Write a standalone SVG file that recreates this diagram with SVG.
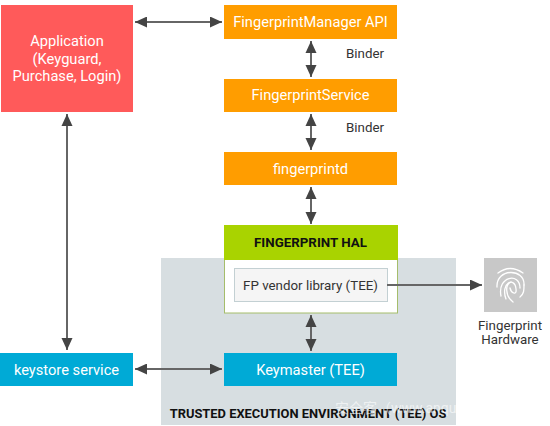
<svg xmlns="http://www.w3.org/2000/svg" width="550" height="426" viewBox="0 0 550 426">
<style>
text{font-family:Roboto,"Liberation Sans","Noto Sans CJK SC",sans-serif;text-anchor:middle}
.w{fill:#fff;font-size:14.670px}
.d{fill:#333;font-size:13.330px}
.b{fill:#111;font-size:13.330px;font-weight:700}
.c{stroke:#666;stroke-width:2;fill:none;marker-start:url(#s);marker-end:url(#e)}
.f{stroke:#fff;stroke-width:1.300;fill:none;stroke-linecap:round}
</style>
<defs>
<marker id="e" markerUnits="userSpaceOnUse" markerWidth="13" markerHeight="12" refX="12" refY="5.500" orient="auto"><path d="M0 0L12 5.500L0 11z" fill="#444"/></marker>
<marker id="s" markerUnits="userSpaceOnUse" markerWidth="13" markerHeight="12" refX="0" refY="5.500" orient="auto"><path d="M12 0L0 5.500L12 11z" fill="#444"/></marker>
</defs>
<rect width="550" height="426" fill="#fff"/>
<g id="tee-os"><rect x="161" y="258" width="295" height="167" fill="#d7dee1"/>
<text x="308" y="418" class="b" style="font-size:12.900px">TRUSTED EXECUTION ENVIRONMENT (TEE) OS</text>
<text x="335" y="413" font-size="14" fill="#fff" fill-opacity=".6" style="text-anchor:start">安全客（www.anqu</text></g>
<g id="application"><rect x="1" y="5" width="132" height="107" fill="#ff5a5a"/>
<text x="67" y="46" class="w">Application</text><text x="67" y="64" class="w">(Keyguard,</text><text x="67" y="81" class="w">Purchase, Login)</text></g>
<g id="fingerprint-manager"><rect x="224" y="5" width="173" height="34" fill="#ff9d00"/><text x="310.500" y="27" class="w">FingerprintManager API</text></g>
<g id="fingerprint-service"><rect x="224" y="79" width="173" height="33" fill="#ff9d00"/><text x="310.500" y="100" class="w">FingerprintService</text></g>
<g id="fingerprintd"><rect x="224" y="152" width="173" height="33" fill="#ff9d00"/><text x="310.500" y="174" class="w">fingerprintd</text></g>
<g id="fingerprint-hal"><rect x="224.500" y="230" width="173" height="83" fill="#fff" stroke="#a5bd6b"/><rect x="224" y="225" width="174" height="35" fill="#a9d300"/>
<text x="310.500" y="247" class="b">FINGERPRINT HAL</text></g>
<g id="fp-vendor"><rect x="234.500" y="268.500" width="153" height="33" fill="#f5f5f5" stroke="#c3d0d3"/><text x="310.500" y="290" fill="#333" font-size="13.330">FP vendor library (TEE)</text></g>
<g id="keymaster"><rect x="224" y="353" width="173" height="33" fill="#00aad6"/><text x="310.500" y="375" class="w">Keymaster (TEE)</text></g>
<g id="keystore"><rect x="0" y="353" width="133" height="33" fill="#00aad6"/><text x="66.500" y="375" class="w">keystore service</text></g>
<g id="fingerprint-hardware"><rect x="484" y="258" width="53" height="54" fill="#c8c8c8"/>
<g class="f"><path d="M498 273Q510 264 523 273"/><path d="M497 287C496 268 525 268 524 285"/><path d="M501 296C497 276 520 272 520 288"/><path d="M506 299C500 283 515 276 516 289C517 296 511 293 510 288"/><path d="M513 302C505 296 505 284 511 282"/><path d="M520 297C524 294 524 290 524 285"/></g>
<text x="510" y="330" class="d">Fingerprint</text><text x="510" y="344" class="d">Hardware</text></g>
<g id="binder-labels"><text x="365" y="58" class="d">Binder</text><text x="365" y="132" class="d">Binder</text></g>
<g id="connectors">
<path class="c" d="M135 22H222"/>
<path class="c" d="M311 41V77"/>
<path class="c" d="M311 114V150"/>
<path class="c" d="M311 187V224"/>
<path class="c" d="M311 315V351"/>
<path class="c" d="M67 114V350"/>
<path class="c" d="M135 369H222"/>
<path d="M387 285H482" stroke="#666" stroke-width="2" fill="none" marker-end="url(#e)"/>
</g>
</svg>
